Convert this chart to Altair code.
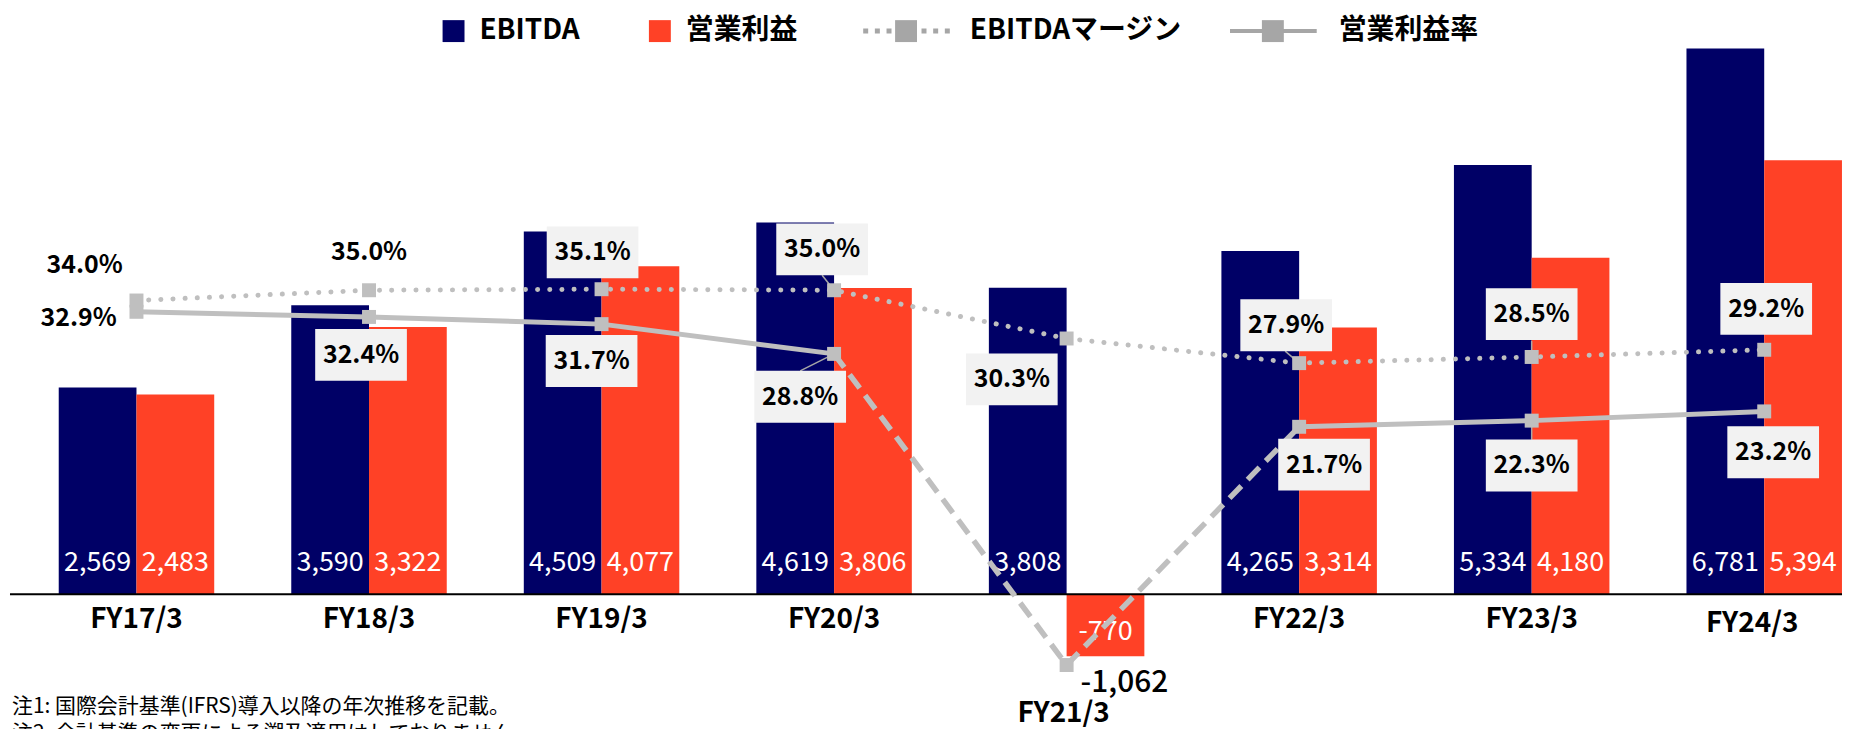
import altair as alt
import pandas as pd

# ---------------- data ----------------
categories = ["FY17/3", "FY18/3", "FY19/3", "FY20/3", "FY21/3", "FY22/3", "FY23/3", "FY24/3"]
ebitda = [2569, 3590, 4509, 4619, 3808, 4265, 5334, 6781]
op_profit = [2483, 3322, 4077, 3806, -770, 3314, 4180, 5394]
ebitda_margin = [34.0, 35.0, 35.1, 35.0, 30.3, 27.9, 28.5, 29.2]
op_margin = [32.9, 32.4, 31.7, 28.8, -1062, 21.7, 22.3, 23.2]
series_names = ["EBITDA", "営業利益", "EBITDAマージン", "営業利益率"]
notes = ["注1: 国際会計基準(IFRS)導入以降の年次推移を記載。",
         "注2: 会計基準の変更による遡及適用はしておりません。"]

# ---------------- label layout (pixel offsets from each point) ----------------
em_label_dx = [-52, 0, -9, -12, -55, -13, 0, 2]
em_label_dy = [-36, -38, -37, -41, 41, -38, -43, -41]
em_label_kind = ["plain", "plain", "box", "box", "box", "box", "box", "box"]
om_label_dx = [-58, -8, -10, -34, 58, 25, 0, 9]
om_label_dy = [6, 38, 37, 43, 18, 38, 45, 41]
om_label_kind = ["plain", "box", "box", "box", "value", "box", "box", "box"]
xlabel_dx = [0, 0, 0, 0, -3, 0, 0, -12]
xlabel_dy = [26, 26, 26, 26, 120, 26, 26, 30]
leaders = [("FY20/3", "em", -12, -15), ("FY20/3", "om", -34, 17),
           ("FY22/3", "em", -14, -12), ("FY23/3", "em", 0, -16),
           ("FY23/3", "om", 0, 19)]

W, H = 1840, 619
NAVY = "#000066"
RED = "#FF4126"
GRAY = "#BFBFBF"
LGRAY = "#A6A6A6"
BOXC = "#F2F2F2"
FONT = "Noto Sans CJK JP"
BOX_PATH = "M-1,-0.5652L1,-0.5652L1,0.5652L-1,0.5652Z"

P_IN, P_OUT = 0.331, 0.109
STEP = W / (len(categories) - P_IN + 2 * P_OUT)
HALF_BAND = STEP * (1 - P_IN) / 2   # offset encodings are measured from the band start

BAR_DOM = [-879.4, 6787.0]
PCT_DOM = [-1.505, 58.59]
bar_px = H / (BAR_DOM[1] - BAR_DOM[0])   # pixels per unit
pct_px = H / (PCT_DOM[1] - PCT_DOM[0])

x_scale = alt.Scale(domain=categories, paddingInner=P_IN, paddingOuter=P_OUT, align=1)
X = alt.X("cat:N", scale=x_scale, axis=None)
bar_y = alt.Scale(domain=BAR_DOM, nice=False, zero=False)
pct_y = alt.Scale(domain=PCT_DOM, nice=False, zero=False, clamp=True)
pct_y_lab = alt.Scale(domain=PCT_DOM, nice=False, zero=False)

def clampv(v, dom):
    return min(max(v, dom[0]), dom[1])

base = pd.DataFrame({
    "cat": categories, "ebitda": ebitda, "op": op_profit,
    "em": ebitda_margin, "om": op_margin,
    "ebitda_txt": [f"{v:,}" for v in ebitda],
    "op_txt": [f"{v:,}" for v in op_profit],
    "xdx": [d + HALF_BAND for d in xlabel_dx], "xdy": xlabel_dy,
})

# bars
bars_e = alt.Chart(base).mark_bar(width=78, xOffset=-39, color=NAVY).encode(
    x=X, y=alt.Y("ebitda:Q", scale=bar_y, axis=None))
bars_o = alt.Chart(base).mark_bar(width=78, xOffset=39, color=RED).encode(
    x=X, y=alt.Y("op:Q", scale=bar_y, axis=None))

baseline = alt.Chart(pd.DataFrame({"zero": [0]})).mark_rule(color="black", strokeWidth=2).encode(
    y=alt.Y("zero:Q", scale=bar_y, axis=None), x=alt.value(2), x2=alt.value(W))

def bar_labels(valcol, txtcol, dx):
    return alt.Chart(base).transform_calculate(
        ly=f"(datum.{valcol} < 0 ? -38 : 31) / {bar_px}"
    ).mark_text(xOffset=dx, color="white", fontSize=27, font=FONT).encode(
        x=X, y=alt.Y("ly:Q", scale=bar_y, axis=None),
        text=alt.Text(f"{txtcol}:N"))

lab_e = bar_labels("ebitda", "ebitda_txt", -39)
lab_o = bar_labels("op", "op_txt", 39)

# lines
em_line = alt.Chart(base).mark_line(color=GRAY, strokeWidth=5, strokeDash=[0.1, 12.1], strokeCap="round").encode(
    x=X, y=alt.Y("em:Q", scale=pct_y, axis=None))
em_pts = alt.Chart(base).mark_square(size=196, color=GRAY, opacity=1).encode(
    x=X, y=alt.Y("em:Q", scale=pct_y, axis=None))

seg_rows = []
for i in range(len(categories) - 1):
    style = "dashed" if (op_margin[i] < 0 or op_margin[i + 1] < 0) else "solid"
    for j in (i, i + 1):
        seg_rows.append({"cat": categories[j], "om": op_margin[j], "seg": i, "style": style})
segs = pd.DataFrame(seg_rows)
om_solid = alt.Chart(segs).transform_filter("datum.style == 'solid'").mark_line(
    color=GRAY, strokeWidth=5).encode(
    x=X, y=alt.Y("om:Q", scale=pct_y, axis=None), detail="seg:N")
om_dashed = alt.Chart(segs).transform_filter("datum.style == 'dashed'").mark_line(
    color=GRAY, strokeWidth=5.5, strokeDash=[17, 9]).encode(
    x=X, y=alt.Y("om:Q", scale=pct_y, axis=None), detail="seg:N")
om_pts = alt.Chart(base).mark_square(size=196, color=GRAY, opacity=1).encode(
    x=X, y=alt.Y("om:Q", scale=pct_y, axis=None))

# leader lines (from marker to label box)
lead_rows = []
for k, (c, s, dx, dy) in enumerate(leaders):
    i = categories.index(c)
    v = clampv(ebitda_margin[i] if s == "em" else op_margin[i], PCT_DOM)
    lead_rows.append({"cat": c, "py": v, "dx": HALF_BAND, "id": k, "o": 0})
    lead_rows.append({"cat": c, "py": v - dy / pct_px, "dx": dx + HALF_BAND, "id": k, "o": 1})
lead_df = pd.DataFrame(lead_rows)
leader_lines = alt.Chart(lead_df).mark_line(color=LGRAY, strokeWidth=1.5).encode(
    x=X, y=alt.Y("py:Q", scale=pct_y_lab, axis=None),
    xOffset=alt.XOffset("dx:Q", scale=None),
    detail="id:N", order="o:Q")

# percentage labels
lab_rows = []
for i, c in enumerate(categories):
    v = ebitda_margin[i]
    lab_rows.append({"cat": c, "py": clampv(v, PCT_DOM) - em_label_dy[i] / pct_px,
                     "txt": f"{v:.1f}%", "dx": em_label_dx[i] + HALF_BAND, "kind": em_label_kind[i]})
    v = op_margin[i]
    txt = f"{v:,.0f}" if om_label_kind[i] == "value" else f"{v:.1f}%"
    lab_rows.append({"cat": c, "py": clampv(v, PCT_DOM) - om_label_dy[i] / pct_px,
                     "txt": txt, "dx": om_label_dx[i] + HALF_BAND, "kind": om_label_kind[i]})
labs = pd.DataFrame(lab_rows)
pos_enc = dict(x=X, y=alt.Y("py:Q", scale=pct_y_lab, axis=None),
               xOffset=alt.XOffset("dx:Q", scale=None))
boxes = alt.Chart(labs).transform_filter("datum.kind == 'box'").mark_point(
    shape=BOX_PATH, size=8464, filled=True, color=BOXC, opacity=1, strokeWidth=0).encode(**pos_enc)
pct_text = alt.Chart(labs).transform_filter("datum.kind != 'value'").mark_text(
    fontSize=25, fontWeight="bold", font=FONT, color="black").encode(text="txt:N", **pos_enc)
val_text = alt.Chart(labs).transform_filter("datum.kind == 'value'").mark_text(
    fontSize=30, fontWeight=500, font=FONT, color="black").encode(text="txt:N", **pos_enc)

# category labels
xlabels = alt.Chart(base).transform_calculate(
    ly=f"-datum.xdy / {bar_px}"
).mark_text(fontSize=28, fontWeight="bold", font=FONT, color="black").encode(
    x=X, y=alt.Y("ly:Q", scale=bar_y, axis=None),
    xOffset=alt.XOffset("xdx:Q", scale=None),
    text="cat:N")

# legend (drawn above plot)
LEG_Y = -17
legend_text_x = [473, 680, 965, 1335]
legend_layers = []
for lbl, lx in zip(series_names, legend_text_x):
    legend_layers.append(alt.Chart(pd.DataFrame({"t": [lbl]})).mark_text(
        align="left", baseline="middle", fontSize=28, fontWeight="bold", font=FONT, color="black"
    ).encode(text="t:N", x=alt.value(lx), y=alt.value(LEG_Y)))
one = pd.DataFrame({"a": [0]})
for sx, col in [(447, NAVY), (654, RED)]:
    legend_layers.append(alt.Chart(one).mark_square(size=484, color=col, opacity=1).encode(
        x=alt.value(sx), y=alt.value(LEG_Y)))
legend_layers.append(alt.Chart(one).mark_rule(color=LGRAY, strokeWidth=5, strokeDash=[5, 6.7]).encode(
    x=alt.value(858), x2=alt.value(946), y=alt.value(LEG_Y)))
legend_layers.append(alt.Chart(one).mark_square(size=484, color=LGRAY, opacity=1).encode(
    x=alt.value(901), y=alt.value(LEG_Y)))
legend_layers.append(alt.Chart(one).mark_rule(color=LGRAY, strokeWidth=4).encode(
    x=alt.value(1226), x2=alt.value(1313), y=alt.value(LEG_Y)))
legend_layers.append(alt.Chart(one).mark_square(size=484, color=LGRAY, opacity=1).encode(
    x=alt.value(1269), y=alt.value(LEG_Y)))

# notes
note_layers = []
for k, line in enumerate(notes):
    note_layers.append(alt.Chart(pd.DataFrame({"t": [line]})).mark_text(
        align="left", baseline="top", fontSize=21, font=FONT, color="black"
    ).encode(text="t:N", x=alt.value(4), y=alt.value(650 + 27 * k)))

chart = alt.layer(
    bars_e, bars_o, baseline, lab_e, lab_o, leader_lines,
    em_line, om_solid, om_dashed, em_pts, om_pts,
    boxes, pct_text, val_text, xlabels,
    *legend_layers, *note_layers
).resolve_scale(y="independent").properties(
    width=W, height=H,
    autosize=alt.AutoSizeParams(type="none"),
    padding={"left": 0, "right": 0, "top": 39, "bottom": 63},
    background="white",
).configure_view(stroke=None)

chart.save("out.html", embed_options={"renderer": "svg", "actions": False})
